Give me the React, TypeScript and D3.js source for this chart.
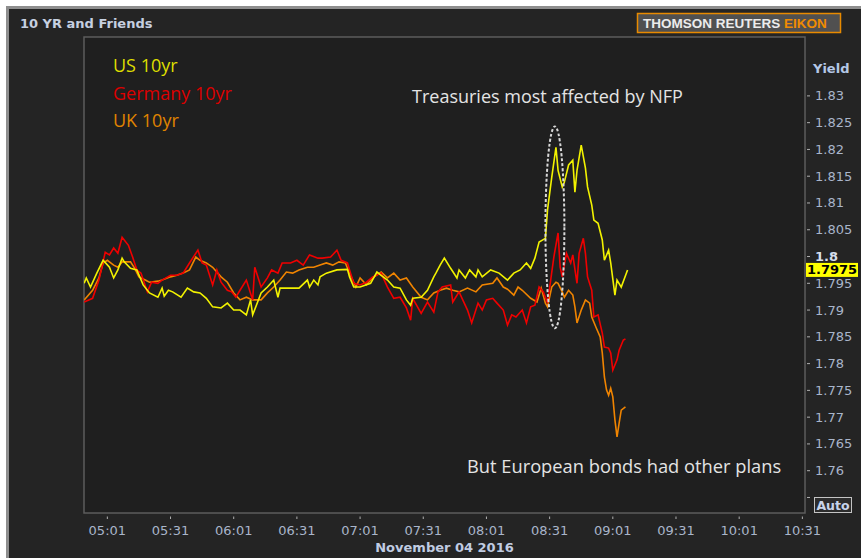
import { useEffect, useRef } from "react";
import * as d3 from "d3";

type Pt = [string, number];

// minute snapshots, 4 Nov 2016
const US_10YR: Pt[] = [
  ["04:50", 1.7950], ["04:51", 1.7960], ["04:53", 1.7943], ["04:56", 1.7969], ["04:59", 1.7993],
  ["05:02", 1.7980], ["05:04", 1.7960], ["05:06", 1.7975], ["05:08", 1.7997], ["05:09", 1.7990],
  ["05:12", 1.7978], ["05:15", 1.7975], ["05:18", 1.7947], ["05:21", 1.7932], ["05:25", 1.7924],
  ["05:27", 1.7941], ["05:28", 1.7926], ["05:30", 1.7937], ["05:32", 1.7934], ["05:36", 1.7924],
  ["05:39", 1.7941], ["05:42", 1.7934], ["05:45", 1.7932], ["05:48", 1.7922], ["05:51", 1.7906],
  ["05:55", 1.7904], ["05:58", 1.7913], ["06:01", 1.7900], ["06:04", 1.7900], ["06:07", 1.7891],
  ["06:09", 1.7919], ["06:10", 1.7891], ["06:14", 1.7932], ["06:17", 1.7943], ["06:20", 1.7956],
  ["06:22", 1.7924], ["06:23", 1.7941], ["06:28", 1.7941], ["06:32", 1.7941], ["06:36", 1.7956],
  ["06:37", 1.7943], ["06:39", 1.7956], ["06:41", 1.7947], ["06:42", 1.7962], ["06:45", 1.7969],
  ["06:50", 1.7975], ["06:55", 1.7976], ["06:56", 1.7962], ["06:58", 1.7943], ["07:01", 1.7943],
  ["07:06", 1.7950], ["07:09", 1.7971], ["07:11", 1.7965], ["07:14", 1.7956], ["07:17", 1.7943],
  ["07:20", 1.7941], ["07:23", 1.7919], ["07:25", 1.7909], ["07:26", 1.7922], ["07:30", 1.7924],
  ["07:33", 1.7937], ["07:36", 1.7962], ["07:37", 1.7969], ["07:39", 1.7984], ["07:41", 1.7997],
  ["07:44", 1.7978], ["07:47", 1.7960], ["07:48", 1.7975], ["07:51", 1.7960], ["07:53", 1.7975],
  ["07:56", 1.7962], ["07:57", 1.7975], ["07:59", 1.7962], ["08:03", 1.7975], ["08:07", 1.7969],
  ["08:11", 1.7956], ["08:14", 1.7969], ["08:17", 1.7975], ["08:20", 1.7988], ["08:22", 1.7978],
  ["08:24", 1.7997], ["08:26", 1.8027], ["08:29", 1.8034], ["08:30", 1.8087], ["08:32", 1.8148],
  ["08:34", 1.8204], ["08:35", 1.8161], ["08:37", 1.8130], ["08:38", 1.8139], ["08:40", 1.8171],
  ["08:42", 1.8180], ["08:43", 1.8120], ["08:44", 1.8161], ["08:46", 1.8208], ["08:48", 1.8165],
  ["08:49", 1.8130], ["08:51", 1.8096], ["08:52", 1.8068], ["08:54", 1.8062], ["08:56", 1.8031],
  ["08:57", 1.7993], ["08:59", 1.8012], ["09:00", 1.7988], ["09:02", 1.7928], ["09:03", 1.7956],
  ["09:05", 1.7943], ["09:08", 1.7975],
];

const GERMANY_10YR: Pt[] = [
  ["04:50", 1.7915], ["04:54", 1.7922], ["04:57", 1.7956], ["05:00", 1.8008], ["05:02", 1.8003],
  ["05:04", 1.8016], ["05:06", 1.8006], ["05:08", 1.8036], ["05:11", 1.8021], ["05:13", 1.7999],
  ["05:15", 1.7975], ["05:17", 1.7969], ["05:20", 1.7934], ["05:22", 1.7952], ["05:25", 1.7950],
  ["05:27", 1.7956], ["05:31", 1.7965], ["05:34", 1.7965], ["05:37", 1.7969], ["05:40", 1.7988],
  ["05:44", 1.8012], ["05:46", 1.7988], ["05:48", 1.7984], ["05:51", 1.7947], ["05:53", 1.7975],
  ["05:55", 1.7952], ["05:58", 1.7937], ["06:00", 1.7934], ["06:02", 1.7924], ["06:04", 1.7937],
  ["06:07", 1.7956], ["06:10", 1.7919], ["06:11", 1.7980], ["06:14", 1.7943], ["06:17", 1.7960],
  ["06:19", 1.7975], ["06:22", 1.7969], ["06:24", 1.7988], ["06:28", 1.7988], ["06:31", 1.7993],
  ["06:34", 1.7984], ["06:37", 1.8003], ["06:41", 1.7997], ["06:43", 1.7997], ["06:47", 1.7999],
  ["06:50", 1.8012], ["06:52", 1.7993], ["06:55", 1.7988], ["06:56", 1.7975], ["06:58", 1.7950],
  ["07:01", 1.7947], ["07:04", 1.7952], ["07:07", 1.7962], ["07:11", 1.7969], ["07:14", 1.7943],
  ["07:17", 1.7922], ["07:20", 1.7924], ["07:23", 1.7904], ["07:25", 1.7881], ["07:26", 1.7922],
  ["07:30", 1.7894], ["07:33", 1.7915], ["07:36", 1.7896], ["07:38", 1.7934], ["07:40", 1.7943],
  ["07:44", 1.7947], ["07:45", 1.7915], ["07:48", 1.7934], ["07:52", 1.7900], ["07:54", 1.7876],
  ["07:57", 1.7913], ["07:59", 1.7900], ["08:01", 1.7919], ["08:04", 1.7922], ["08:06", 1.7913],
  ["08:09", 1.7900], ["08:11", 1.7872], ["08:13", 1.7891], ["08:15", 1.7887], ["08:18", 1.7900],
  ["08:20", 1.7876], ["08:22", 1.7906], ["08:24", 1.7909], ["08:26", 1.7943], ["08:28", 1.7934],
  ["08:30", 1.7913], ["08:33", 1.7999], ["08:35", 1.8044], ["08:36", 1.7980], ["08:37", 1.7962],
  ["08:39", 1.8006], ["08:41", 1.7988], ["08:42", 1.8003], ["08:44", 1.7950], ["08:45", 1.8006],
  ["08:47", 1.8034], ["08:48", 1.8006], ["08:49", 1.7962], ["08:51", 1.7937], ["08:52", 1.7887],
  ["08:54", 1.7891], ["08:56", 1.7857], ["08:57", 1.7831], ["08:59", 1.7829], ["09:00", 1.7820],
  ["09:01", 1.7788], ["09:03", 1.7807], ["09:04", 1.7825], ["09:06", 1.7844], ["09:07", 1.7846],
];

const UK_10YR: Pt[] = [
  ["04:50", 1.7919], ["04:54", 1.7937], ["04:57", 1.7960], ["04:59", 1.7988], ["05:01", 1.7993],
  ["05:04", 1.7984], ["05:06", 1.7980], ["05:08", 1.7990], ["05:12", 1.7990], ["05:14", 1.7978],
  ["05:16", 1.7962], ["05:19", 1.7956], ["05:21", 1.7952], ["05:25", 1.7954], ["05:27", 1.7956],
  ["05:31", 1.7962], ["05:34", 1.7965], ["05:37", 1.7969], ["05:40", 1.7975], ["05:43", 1.7999],
  ["05:45", 1.7993], ["05:48", 1.7988], ["05:51", 1.7980], ["05:55", 1.7962], ["05:58", 1.7952],
  ["06:01", 1.7932], ["06:04", 1.7919], ["06:07", 1.7924], ["06:10", 1.7919], ["06:14", 1.7919],
  ["06:17", 1.7932], ["06:20", 1.7943], ["06:23", 1.7956], ["06:26", 1.7971], ["06:29", 1.7969],
  ["06:32", 1.7975], ["06:36", 1.7980], ["06:39", 1.7980], ["06:42", 1.7984], ["06:45", 1.7988],
  ["06:48", 1.7984], ["06:51", 1.7990], ["06:54", 1.7988], ["06:56", 1.7969], ["06:59", 1.7943],
  ["07:01", 1.7960], ["07:04", 1.7947], ["07:07", 1.7960], ["07:11", 1.7971], ["07:14", 1.7960],
  ["07:17", 1.7969], ["07:20", 1.7956], ["07:23", 1.7960], ["07:26", 1.7943], ["07:30", 1.7924],
  ["07:33", 1.7919], ["07:36", 1.7932], ["07:39", 1.7937], ["07:42", 1.7941], ["07:45", 1.7937],
  ["07:48", 1.7934], ["07:52", 1.7941], ["07:56", 1.7934], ["07:59", 1.7947], ["08:04", 1.7950],
  ["08:06", 1.7960], ["08:09", 1.7943], ["08:11", 1.7939], ["08:14", 1.7928], ["08:16", 1.7943],
  ["08:18", 1.7937], ["08:22", 1.7922], ["08:25", 1.7915], ["08:27", 1.7941], ["08:29", 1.7913],
  ["08:30", 1.7906], ["08:32", 1.7943], ["08:34", 1.7952], ["08:35", 1.7950], ["08:37", 1.7934],
  ["08:38", 1.7924], ["08:40", 1.7937], ["08:42", 1.7928], ["08:43", 1.7906], ["08:44", 1.7876],
  ["08:46", 1.7900], ["08:48", 1.7919], ["08:50", 1.7913], ["08:51", 1.7887], ["08:53", 1.7868],
  ["08:55", 1.7850], ["08:56", 1.7820], ["08:57", 1.7775], ["08:58", 1.7751], ["08:59", 1.7741],
  ["09:00", 1.7754], ["09:01", 1.7738], ["09:02", 1.7695], ["09:03", 1.7663], ["09:04", 1.7689],
  ["09:05", 1.7713], ["09:07", 1.7719],
];

const X_TICKS = ["05:01", "05:31", "06:01", "06:31", "07:01", "07:31", "08:01", "08:31", "09:01", "09:31", "10:01", "10:31"];
const Y_TICKS = [1.755, 1.76, 1.765, 1.77, 1.775, 1.78, 1.785, 1.79, 1.795, 1.8, 1.805, 1.81, 1.815, 1.82, 1.825, 1.83];
const X_DOMAIN = ["04:49:55", "10:32:15"];
const Y_DOMAIN = [1.7521, 1.841];
const LAST_US = 1.7975;
// the dotted ring round the payrolls release
const NFP_WINDOW = { from: "08:29", to: "08:38", low: 1.7866, high: 1.8243 };

const SERIES = [
  { name: "US 10yr", data: US_10YR, line: "#f2f200", label: "#dede00" },
  { name: "Germany 10yr", data: GERMANY_10YR, line: "#f00000", label: "#dc0000" },
  { name: "UK 10yr", data: UK_10YR, line: "#f08400", label: "#e08400" },
];

const AXIS_FONT = "'DejaVu Sans', Tahoma, sans-serif";
const NOTE_FONT = "'Open Sans', Lato, sans-serif";

const parseT = (s: string) => d3.timeParse(s.length > 5 ? "%H:%M:%S" : "%H:%M")(s) as Date;

export default function App() {
  const svgRef = useRef<SVGSVGElement>(null);
  const width = 861;
  const height = 558;

  useEffect(() => {
    document.body.style.margin = "0";
    if (!svgRef.current) return;
    const svg = d3.select(svgRef.current);
    svg.selectAll("*").remove();

    const plot = { left: 84, top: 37, right: 805, bottom: 513 };

    // ── frame ────────────────────────────────────────────────────────────
    svg.append("rect").attr("width", width).attr("height", height).attr("fill", "#ffffff");
    svg.append("rect")
      .attr("x", 7.5).attr("y", 7.5)
      .attr("width", width + 10).attr("height", height + 10)
      .attr("fill", "#242424").attr("stroke", "#8e8e8e").attr("stroke-width", 3);

    svg.append("text")
      .attr("x", 20).attr("y", 28)
      .attr("font-family", AXIS_FONT).attr("font-size", 13).attr("font-weight", "bold")
      .attr("fill", "#c6d0e0")
      .text("10 YR and Friends");

    // logo
    svg.append("rect")
      .attr("x", 637.5).attr("y", 13.5).attr("width", 203).attr("height", 19)
      .attr("fill", "#505050").attr("stroke", "#e88a00").attr("stroke-width", 1.5);
    const logo = svg.append("text")
      .attr("x", 643).attr("y", 28)
      .attr("font-family", "'Liberation Sans', Arial, sans-serif")
      .attr("font-size", 13.5).attr("font-weight", "bold");
    logo.append("tspan").attr("fill", "#ececec").text("THOMSON REUTERS ");
    logo.append("tspan").attr("fill", "#f08c00").text("EIKON");

    // ── scales ───────────────────────────────────────────────────────────
    const x = d3.scaleTime()
      .domain(X_DOMAIN.map(parseT) as [Date, Date])
      .range([plot.left, plot.right]);
    const y = d3.scaleLinear()
      .domain(Y_DOMAIN)
      .range([plot.bottom, plot.top]);

    svg.append("rect")
      .attr("x", plot.left).attr("y", plot.top)
      .attr("width", plot.right - plot.left).attr("height", plot.bottom - plot.top)
      .attr("fill", "#1f1f1f").attr("stroke", "#5c5c5c").attr("stroke-width", 1.5);

    svg.append("defs").append("clipPath").attr("id", "plotclip")
      .append("rect")
      .attr("x", plot.left).attr("y", plot.top)
      .attr("width", plot.right - plot.left).attr("height", plot.bottom - plot.top);

    // ── right axis ───────────────────────────────────────────────────────
    svg.append("text")
      .attr("x", 813).attr("y", 73)
      .attr("font-family", AXIS_FONT).attr("font-size", 13).attr("font-weight", "bold")
      .attr("fill", "#b4c8e6")
      .text("Yield");

    const yAxis = svg.append("g");
    yAxis.selectAll("line").data(Y_TICKS).join("line")
      .attr("x1", plot.right + 2).attr("x2", plot.right + 5)
      .attr("y1", (d) => y(d)).attr("y2", (d) => y(d))
      .attr("stroke", "#b0b0b0").attr("stroke-width", 1);
    yAxis.selectAll("text").data(Y_TICKS.filter((d) => d > 1.756)).join("text")
      .attr("x", 815).attr("y", (d) => y(d))
      .attr("dominant-baseline", "central")
      .attr("font-family", AXIS_FONT).attr("font-size", 13)
      .attr("font-weight", (d) => (d === 1.8 ? "bold" : "normal"))
      .attr("fill", (d) => (d === 1.8 ? "#d6deec" : "#a9b5ca"))
      .text((d) => String(+d.toFixed(3)));

    // current value flag
    const ly = y(LAST_US);
    svg.append("rect")
      .attr("x", 806).attr("y", ly - 7).attr("width", 52).attr("height", 14)
      .attr("fill", "#ffff00");
    svg.append("text")
      .attr("x", 807).attr("y", ly).attr("dominant-baseline", "central")
      .attr("font-family", AXIS_FONT).attr("font-size", 13).attr("font-weight", "bold")
      .attr("fill", "#000000")
      .text(LAST_US.toFixed(4));

    // Auto button
    svg.append("rect")
      .attr("x", 814.5).attr("y", 497.5).attr("width", 37).attr("height", 15)
      .attr("fill", "#2c2c2c").attr("stroke", "#c4c4c4").attr("stroke-width", 1);
    svg.append("text")
      .attr("x", 833).attr("y", 509.5).attr("text-anchor", "middle")
      .attr("font-family", AXIS_FONT).attr("font-size", 12.5).attr("font-weight", "bold")
      .attr("fill", "#c8d4ea")
      .text("Auto");

    // ── bottom axis ──────────────────────────────────────────────────────
    const xAxis = svg.append("g");
    xAxis.selectAll("line").data(X_TICKS).join("line")
      .attr("x1", (d) => x(parseT(d))).attr("x2", (d) => x(parseT(d)))
      .attr("y1", 516.5).attr("y2", 519)
      .attr("stroke", "#b0b0b0").attr("stroke-width", 1);
    xAxis.selectAll("text").data(X_TICKS).join("text")
      .attr("x", (d) => x(parseT(d))).attr("y", 535)
      .attr("text-anchor", "middle")
      .attr("font-family", AXIS_FONT).attr("font-size", 13)
      .attr("fill", "#a9b5ca")
      .text((d) => d);

    svg.append("text")
      .attr("x", (plot.left + plot.right) / 2).attr("y", 552)
      .attr("text-anchor", "middle")
      .attr("font-family", AXIS_FONT).attr("font-size", 13).attr("font-weight", "bold")
      .attr("fill", "#c0cce2")
      .text("November 04 2016");

    // ── series ───────────────────────────────────────────────────────────
    const line = d3.line<Pt>()
      .x((d) => x(parseT(d[0])))
      .y((d) => y(d[1]));

    const lines = svg.append("g").attr("clip-path", "url(#plotclip)");
    [...SERIES].reverse().forEach((s) => {
      lines.append("path").datum(s.data)
        .attr("fill", "none")
        .attr("stroke", s.line)
        .attr("stroke-width", 1.6)
        .attr("stroke-linejoin", "miter")
        .attr("d", line);
    });

    // ── legend ───────────────────────────────────────────────────────────
    SERIES.forEach((s, i) => {
      svg.append("text")
        .attr("x", 113).attr("y", 72 + i * 27.5)
        .attr("font-family", NOTE_FONT).attr("font-size", 18)
        .attr("fill", s.label)
        .text(s.name);
    });

    // ── annotations ──────────────────────────────────────────────────────
    const x0 = x(parseT(NFP_WINDOW.from));
    const x1 = x(parseT(NFP_WINDOW.to));
    const y0 = y(NFP_WINDOW.high);
    const y1 = y(NFP_WINDOW.low);
    svg.append("ellipse")
      .attr("cx", (x0 + x1) / 2).attr("cy", (y0 + y1) / 2)
      .attr("rx", (x1 - x0) / 2).attr("ry", (y1 - y0) / 2)
      .attr("fill", "none")
      .attr("stroke", "#d8d8d8").attr("stroke-width", 2)
      .attr("stroke-dasharray", "3,2");

    svg.append("text")
      .attr("x", 412).attr("y", 103)
      .attr("font-family", NOTE_FONT).attr("font-size", 18)
      .attr("fill", "#e4e4e4")
      .text("Treasuries most affected by NFP");

    svg.append("text")
      .attr("x", 467).attr("y", 473)
      .attr("font-family", NOTE_FONT).attr("font-size", 18.3)
      .attr("fill", "#e4e4e4")
      .text("But European bonds had other plans");
  }, []);

  return <svg ref={svgRef} width={width} height={height} style={{ display: "block" }} />;
}
